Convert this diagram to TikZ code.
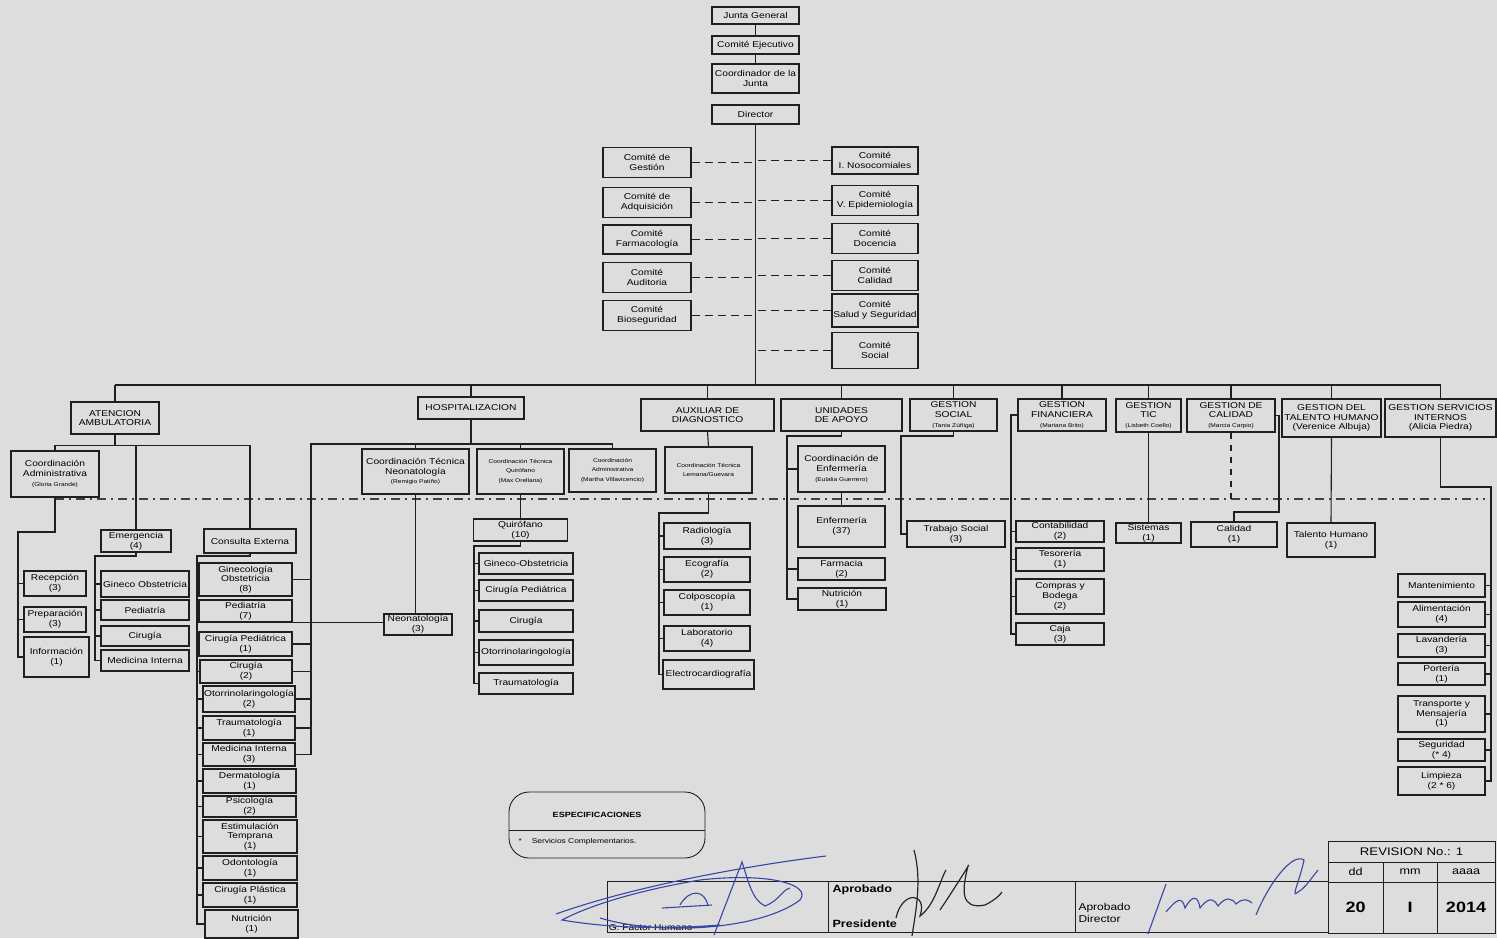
\documentclass[tikz,border=0pt]{standalone}
\usepackage{fontspec}
\setmainfont{Liberation Sans}[FakeStretch=1.2]
\definecolor{cbg}{HTML}{DDDDDD}
\definecolor{cink}{HTML}{1F1F1F}
\definecolor{cpen}{HTML}{3747A6}
\definecolor{cpen2}{HTML}{26262E}
\newcommand{\who}[1]{{\fontsize{5.5}{6.6}\selectfont #1}}
\tikzset{
  every picture/.style={font=\fontsize{8.5}{9.6}\selectfont},
  box/.style={draw=cink, fill=cbg, line width=1.3pt, align=center, inner sep=0pt},
  topbox/.style={box, line width=1.8pt},
  sz/.style 2 args={minimum width=#1, minimum height=#2},
  link/.style={draw=cink, line width=1.1pt},
  dlink/.style={link, dash pattern=on 8pt off 5pt},
  sepline/.style={draw=cink!85, line width=1.2pt, dash pattern=on 9pt off 5pt on 2pt off 5pt},
  cell/.style={draw=cink, line width=0.9pt, inner sep=0pt, align=center},
  pen/.style={draw=cpen, line width=1.1pt},
}

\begin{document}
\begin{tikzpicture}[x=1pt, y=-1pt]
  \fill[cbg] (0,0) rectangle (1497,938);
  \useasboundingbox (0,0) rectangle (1497,938);
  % top of the chart
  \node[topbox, sz={87}{17}] (jg) at (755.5,15.5) {Junta General};
  \node[topbox, sz={87}{18}] (cejec) at (755.5,45) {Comité Ejecutivo};
  \node[topbox, sz={87}{29}] (cjun) at (755.5,78.5) {Coordinador de la\\Junta};
  \node[topbox, sz={87}{19}] (dir) at (755.5,114.5) {Director};
  \draw[link] (jg) -- (cejec);
  \draw[link] (cejec) -- (cjun);
  \coordinate (bus) at (756,385);
  \draw[link] (dir.south) -- (dir.south |- bus);
  % committees
  \node[box, sz={88}{30}] (cges) at (647,162.5) {Comité de\\Gestión};
  \node[box, sz={88}{30}] (cadq) at (647,202.5) {Comité de\\Adquisición};
  \node[box, sz={88}{29}] (cfar) at (647,239.5) {Comité\\Farmacología};
  \node[box, sz={88}{30}] (caud) at (647,277.5) {Comité\\Auditoria};
  \node[box, sz={88}{30}] (cbio) at (647,315.5) {Comité\\Bioseguridad};
  \node[box, sz={86}{27}] (cnos) at (875,160.5) {Comité\\I. Nosocomiales};
  \node[box, sz={86}{30}] (cepi) at (875,200.5) {Comité\\V. Epidemiología};
  \node[box, sz={86}{30}] (cdoc) at (875,238.5) {Comité\\Docencia};
  \node[box, sz={86}{30}] (ccal) at (875,275.5) {Comité\\Calidad};
  \node[box, sz={86}{33}] (csal) at (875,310.5) {Comité\\Salud y Seguridad};
  \node[box, sz={86}{36}] (csoc) at (875,350.5) {Comité\\Social};
  \foreach \n in {cges, cadq, cfar, caud, cbio} \draw[dlink] (\n.east) -- (\n.east -| dir.south);
  \foreach \n in {cnos, cepi, cdoc, ccal, csal, csoc} \draw[dlink] (\n.west) -- (\n.west -| dir.south);
  % second level
  \node[box, sz={88}{32}] (amb) at (115,418) {ATENCION\\AMBULATORIA};
  \node[box, sz={106}{22}] (hosp) at (471,408) {HOSPITALIZACION};
  \node[box, sz={133}{32}] (aux) at (707.5,415) {AUXILIAR DE\\DIAGNOSTICO};
  \node[box, sz={121}{32}] (uap) at (841.5,415) {UNIDADES\\DE APOYO};
  \node[box, sz={87}{32}] (gsoc) at (953.5,415) {GESTION\\SOCIAL\\\who{(Tania Zúñiga)}};
  \node[box, sz={88}{32}] (gfin) at (1062,415) {GESTION\\FINANCIERA\\\who{(Mariana Brito)}};
  \node[box, sz={65}{33}] (gtic) at (1148.5,415.5) {GESTION\\TIC\\\who{(Lisbeth Coello)}};
  \node[box, sz={88}{33}] (gcal) at (1231,415.5) {GESTION DE\\CALIDAD\\\who{(Marcia Carpio)}};
  \node[box, sz={99}{38}] (gth) at (1331.5,418) {GESTION DEL\\TALENTO HUMANO\\(Verenice Albuja)};
  \node[box, sz={111}{38}] (gsi) at (1440.5,418) {GESTION SERVICIOS\\INTERNOS\\(Alicia Piedra)};
  \draw[link] (amb.north |- bus) -- (gsi.north |- bus);
  \foreach \n in {amb, hosp, aux, uap, gsoc, gfin, gtic, gcal, gth, gsi} \draw[link] (\n.north) -- (\n.north |- bus);
  % dash-dot boundary
  \coordinate (sepL) at (55,499);
  \coordinate (sepR) at (1485,499);
  \draw[sepline] (sepL) -- (sepR);
  % atencion ambulatoria
  \node[box, sz={88}{46}] (cadm) at (55,474) {Coordinación\\Administrativa\\\who{(Gloria Grande)}};
  \node[box, sz={70}{22}] (emer) at (136,541) {Emergencia\\(4)};
  \node[box, sz={92}{24}] (cext) at (250,541) {Consulta Externa};
  \draw[link] (amb.south) -- ++(0,11) coordinate (ambb);
  \draw[link] (cadm.north) |- (ambb) -| (cext.north);
  \draw[link] (emer.north) -- (emer.north |- ambb);
  \node[box, sz={62}{25}] (rec) at (55,583.5) {Recepción\\(3)};
  \node[box, sz={62}{25}] (prep) at (55,619.5) {Preparación\\(3)};
  \node[box, sz={65}{40}] (info) at (56.5,657) {Información\\(1)};
  \coordinate (rail1) at (18,532);
  \draw[link] (cadm.south) |- (rail1) |- (info.west);
  \foreach \n in {rec, prep} \draw[link] (\n.west) -- (\n.west -| rail1);
  \node[box, sz={88}{26}] (gob1) at (145,584) {Gineco Obstetricia};
  \node[box, sz={88}{20}] (ped1) at (145,610) {Pediatría};
  \node[box, sz={88}{20}] (cir1) at (145,636) {Cirugía};
  \node[box, sz={88}{21}] (mint1) at (145,660.5) {Medicina Interna};
  \coordinate (rail2) at (95,556);
  \draw[link] (emer.south) |- (rail2) |- (mint1.west);
  \foreach \n in {gob1, ped1, cir1} \draw[link] (\n.west) -- (\n.west -| rail2);
  \node[box, sz={93}{33}] (gob2) at (245.5,579.5) {Ginecología\\Obstetricia\\(8)};
  \node[box, sz={93}{22}] (ped2) at (245.5,611) {Pediatría\\(7)};
  \node[box, sz={93}{24}] (cped) at (245.5,644) {Cirugía Pediátrica\\(1)};
  \node[box, sz={92}{23}] (cir2) at (246,671.5) {Cirugía\\(2)};
  \node[box, sz={92}{26}] (oto) at (249,699) {Otorrinolaringología\\(2)};
  \node[box, sz={92}{24}] (tra) at (249,728) {Traumatología\\(1)};
  \node[box, sz={92}{23}] (mint2) at (249,754.5) {Medicina Interna\\(3)};
  \node[box, sz={93}{24}] (derm) at (249.5,781) {Dermatología\\(1)};
  \node[box, sz={93}{21}] (psi) at (249.5,806.5) {Psicología\\(2)};
  \node[box, sz={94}{33}] (estim) at (250,836.5) {Estimulación\\Temprana\\(1)};
  \node[box, sz={94}{24}] (odon) at (250,868) {Odontología\\(1)};
  \node[box, sz={94}{24}] (cpla) at (250,895) {Cirugía Plástica\\(1)};
  \node[box, sz={93}{28}] (nut) at (251.5,924) {Nutrición\\(1)};
  \coordinate (rail3) at (197,556);
  \draw[link] (cext.south) |- (rail3) |- (nut.west);
  \foreach \n in {gob2, ped2, cped, cir2, oto, tra, mint2, derm, psi, estim, odon, cpla} \draw[link] (\n.west) -- (\n.west -| rail3);
  % hospitalizacion
  \node[box, sz={107}{45}] (cneo) at (415.5,471.5) {Coordinación Técnica\\Neonatología\\\who{(Remigio Patiño)}};
  \node[box, sz={87}{45}] (cqui) at (520.5,471.5) {\who{Coordinación Técnica}\\\who{Quirófano}\\\who{(Max Orellana)}};
  \node[box, sz={87}{43}] (cmar) at (612.5,470.5) {\who{Coordinación}\\\who{Administrativa}\\\who{(Martha Villavicencio)}};
  \draw[link] (hosp.south) -- ++(0,25) coordinate (hospb);
  \coordinate (rail4) at (311,444);
  \draw[link] (cmar.north) |- (rail4) -- (rail4 |- mint2.east);
  \foreach \n in {cneo, cqui} \draw[link] (\n.north) -- (\n.north |- hospb);
  \foreach \n in {gob2, cped, cir2, oto, tra, mint2} \draw[link] (\n.east) -- (\n.east -| rail4);
  \node[box, sz={68}{21}] (neo) at (418,624.5) {Neonatología\\(3)};
  \draw[link] (cneo.south) -- (cneo.south |- neo.north);
  \draw[link] (ped2.south) -- (ped2.south -| neo.west);
  \node[box, sz={94}{22}] (qui) at (520.5,530) {Quirófano\\(10)};
  \draw[link] (cqui.south) -- (qui.north);
  \node[box, sz={94}{21}] (gob3) at (526,563.5) {Gineco-Obstetricia};
  \node[box, sz={94}{21}] (cped2) at (526,590.5) {Cirugía Pediátrica};
  \node[box, sz={94}{22}] (cir3) at (526,621) {Cirugía};
  \node[box, sz={94}{25}] (oto2) at (526,652.5) {Otorrinolaringología};
  \node[box, sz={94}{21}] (tra2) at (526,683.5) {Traumatología};
  \coordinate (rail5) at (474,546);
  \draw[link] (qui.south) |- (rail5) |- (tra2.west);
  \foreach \n in {gob3, cped2, cir3, oto2} \draw[link] (\n.west) -- (\n.west -| rail5);
  % auxiliar de diagnostico
  \node[box, sz={87}{46}] (cleg) at (708.5,470) {\who{Coordinación Técnica}\\\who{Lemana/Guevara}};
  \draw[link] (aux.south) -- (cleg.north);
  \node[box, sz={86}{26}] (rad) at (707,536) {Radiología\\(3)};
  \node[box, sz={86}{25}] (eco) at (707,569.5) {Ecografía\\(2)};
  \node[box, sz={86}{25}] (col) at (707,602.5) {Colposcopía\\(1)};
  \node[box, sz={86}{25}] (lab) at (707,638.5) {Laboratorio\\(4)};
  \node[box, sz={91}{29}] (ecg) at (708.5,674.5) {Electrocardiografía};
  \coordinate (rail6) at (659,513);
  \draw[link] (cleg.south) |- (rail6) |- (ecg.west);
  \foreach \n in {rad, eco, col, lab} \draw[link] (\n.west) -- (\n.west -| rail6);
  % unidades de apoyo
  \node[box, sz={87}{46}] (cenf) at (841.5,469) {Coordinación de\\Enfermería\\\who{(Eulalia Guerrero)}};
  \node[box, sz={87}{41}] (enf) at (841.5,526.5) {Enfermería\\(37)};
  \node[box, sz={87}{22}] (farm) at (841.5,569) {Farmacia\\(2)};
  \node[box, sz={88}{22}] (nutr) at (842,599) {Nutrición\\(1)};
  \draw[link] (cenf.south) -- (enf.north);
  \coordinate (rail7) at (787,436);
  \draw[link] (uap.south) |- (rail7) |- (nutr.west);
  \foreach \n in {cenf, farm} \draw[link] (\n.west) -- (\n.west -| rail7);
  % gestion social
  \node[box, sz={98}{26}] (ts) at (956,534) {Trabajo Social\\(3)};
  \coordinate (rail8) at (901,436);
  \draw[link] (gsoc.south) |- (rail8) |- (ts.west);
  % gestion financiera
  \node[box, sz={88}{21}] (cont) at (1060,531.5) {Contabilidad\\(2)};
  \node[box, sz={88}{23}] (tes) at (1060,559.5) {Tesorería\\(1)};
  \node[box, sz={88}{35}] (cyb) at (1060,596.5) {Compras y\\Bodega\\(2)};
  \node[box, sz={88}{22}] (caja) at (1060,634) {Caja\\(3)};
  \coordinate (rail9) at (1011,415);
  \draw[link] (gfin.west) -- (rail9) |- (caja.west);
  \foreach \n in {cont, tes, cyb} \draw[link] (\n.west) -- (\n.west -| rail9);
  % gestion tic, calidad, talento humano
  \node[box, sz={65}{20}] (sis) at (1148.5,533) {Sistemas\\(1)};
  \draw[link] (gtic.south) -- (sis.north);
  \node[box, sz={86}{25}] (cal) at (1234,534.5) {Calidad\\(1)};
  \coordinate (rail10) at (1279,512);
  \draw[link] (gcal.east) -| (rail10) -| (cal.north);
  \draw[link, dash pattern=on 6pt off 6pt] (gcal.south) -- (gcal.south |- sepL);
  \node[box, sz={88}{34}] (th) at (1331,540) {Talento Humano\\(1)};
  \draw[link] (gth.south) -- (th.north);
  % servicios internos
  \node[box, sz={87}{23}] (mant) at (1441.5,585.5) {Mantenimiento};
  \node[box, sz={87}{25}] (alim) at (1441.5,614.5) {Alimentación\\(4)};
  \node[box, sz={87}{23}] (lav) at (1441.5,645.5) {Lavandería\\(3)};
  \node[box, sz={87}{22}] (port) at (1441.5,674) {Portería\\(1)};
  \node[box, sz={87}{36}] (tym) at (1441.5,714) {Transporte y\\Mensajería\\(1)};
  \node[box, sz={87}{22}] (seg) at (1441.5,750) {Seguridad\\(* 4)};
  \node[box, sz={87}{28}] (limp) at (1441.5,781) {Limpieza\\(2 * 6)};
  \coordinate (rail11) at (1491,487);
  \draw[link] (gsi.south) |- (rail11) |- (limp.east);
  \foreach \n in {mant, alim, lav, port, tym, seg} \draw[link] (\n.east) -- (\n.east -| rail11);
  % especificaciones
  \node[draw=cink, line width=0.9pt, rounded corners=20pt, sz={196}{66}] (spec) at (607,825) {};
  \coordinate (specmid) at (607,830);
  \draw[cink, line width=0.9pt] (spec.west |- specmid) -- (spec.east |- specmid);
  \node[font=\bfseries\fontsize{7.5}{9}\selectfont] (spectit) at (597,815) {ESPECIFICACIONES};
  \node[anchor=west, font=\fontsize{7}{8}\selectfont] (specitem) at (515,842) {*\hspace{10pt}Servicios Complementarios.};
  % firmas
  \node[cell, sz={221}{51}] (fhum) at (717.5,906.5) {};
  \node[cell, sz={247}{51}] (fpre) at (951.5,906.5) {};
  \node[cell, sz={253}{51}] (fdir) at (1201.5,906.5) {};
  \node[anchor=south west, font=\fontsize{8.5}{10}\selectfont, inner sep=2pt] (fhumt) at (fhum.south west) {G. Factor Humano};
  \node[anchor=west, font=\bfseries\fontsize{10.5}{12}\selectfont] (fpre1) at (829,890) {Aprobado};
  \node[anchor=west, font=\bfseries\fontsize{10.5}{12}\selectfont] (fpre2) at (829,924) {Presidente};
  \node[anchor=west, align=left, font=\fontsize{10}{12}\selectfont] (fdirt) at (1075,913) {Aprobado\\Director};
  % revision
  \node[cell, sz={167}{21}, font=\fontsize{11}{12}\selectfont] (rev) at (1411.5,851.5) {REVISION No.: 1};
  \node[cell, sz={55}{20}, font=\fontsize{10.5}{12}\selectfont] (rdd) at (1355.5,872) {dd};
  \node[cell, sz={54}{20}, font=\fontsize{10.5}{12}\selectfont] (rmm) at (1410,872) {mm};
  \node[cell, sz={58}{20}, font=\fontsize{10.5}{12}\selectfont] (raa) at (1466,872) {aaaa};
  \node[cell, sz={55}{51}, font=\bfseries\fontsize{15}{17}\selectfont] (vdd) at (1355.5,907.5) {20};
  \node[cell, sz={54}{51}, font=\bfseries\fontsize{15}{17}\selectfont] (vmm) at (1410,907.5) {I};
  \node[cell, sz={58}{51}, font=\bfseries\fontsize{15}{17}\selectfont] (vaa) at (1466,907.5) {2014};
  % signatures (ink)
  \draw[pen] (556,914) .. controls (640,884) and (760,864) .. (826,856);
  \draw[pen] (600,918) .. controls (660,936) and (760,930) .. (800,900) .. controls (812,885) and (770,872) .. (700,880) .. controls (640,890) and (590,905) .. (562,920) .. controls (620,930) and (680,928) .. (720,925);
  \draw[pen] (680,905) .. controls (690,888) and (705,890) .. (708,906);
  \draw[pen] (714,935) -- (742,862) .. controls (748,880) and (752,900) .. (765,906) .. controls (780,900) and (782,890) .. (790,888);
  \draw[pen] (662,908) -- (712,905);
  \draw[cpen2, line width=1.2pt] (914,850) .. controls (922,880) and (916,910) .. (912,936);
  \draw[cpen2, line width=1.2pt] (896,918) .. controls (902,890) and (928,892) .. (920,916) .. controls (935,905) and (940,880) .. (946,870);
  \draw[cpen2, line width=1.2pt] (940,910) .. controls (960,880) and (972,860) .. (968,866) .. controls (962,890) and (960,910) .. (985,905) .. controls (995,900) and (1000,895) .. (1002,892);
  \draw[pen] (1166,884) -- (1148,934);
  \draw[pen] (1166,912) .. controls (1176,900) and (1182,895) .. (1185,908) .. controls (1192,895) and (1198,895) .. (1200,908) .. controls (1210,895) and (1215,900) .. (1218,906) .. controls (1226,896) and (1232,898) .. (1236,904) .. controls (1244,897) and (1248,900) .. (1252,903);
  \draw[pen] (1256,915) .. controls (1268,885) and (1292,852) .. (1304,860) .. controls (1300,880) and (1290,900) .. (1298,892) .. controls (1305,888) and (1310,880) .. (1318,870);
\end{tikzpicture}
\end{document}
